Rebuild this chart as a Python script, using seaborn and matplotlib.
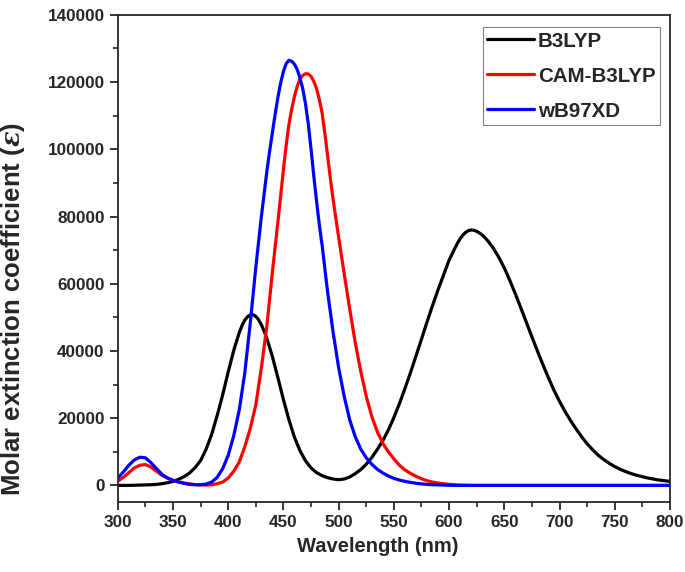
import matplotlib
matplotlib.use('Agg')
import matplotlib.pyplot as plt
from matplotlib.ticker import MultipleLocator
import pandas as pd
import seaborn as sns


# B3LYP (black); 2.5 nm steps on the peak tops
b3lyp_nm = [
    300, 305, 310, 315, 320, 325, 330, 335, 340, 345,
    350, 355, 360, 365, 370, 375, 380, 385, 390, 395,
    400, 405, 410, 412.5, 415, 417.5, 420, 422.5, 425, 427.5,
    430, 432.5, 435, 440, 445, 450, 455, 460, 465, 470,
    475, 480, 485, 490, 495, 500, 505, 510, 515, 520,
    525, 530, 535, 540, 545, 550, 555, 560, 565, 570,
    575, 580, 585, 590, 595, 600, 605, 607.5, 610, 612.5,
    615, 617.5, 620, 622.5, 625, 627.5, 630, 632.5, 635, 640,
    645, 650, 655, 660, 665, 670, 675, 680, 685, 690,
    695, 700, 705, 710, 715, 720, 725, 730, 735, 740,
    745, 750, 755, 760, 765, 770, 775, 780, 785, 790,
    795, 800,
]
b3lyp = [
    0, 0, 0, 50, 100, 150, 200, 300, 500, 800,
    1200, 1800, 2600, 3700, 5300, 7400, 10800, 15200, 20800, 27000,
    33800, 40200, 45500, 47600, 49200, 50200, 50700, 50800, 50300, 49300,
    47800, 45900, 43700, 38300, 32000, 25500, 19500, 14300, 10300, 7300,
    5200, 3800, 2900, 2300, 1900, 1700, 1900, 2500, 3500, 4700,
    6300, 8300, 10700, 13300, 16500, 20200, 24300, 28800, 33500, 38500,
    43500, 48600, 53500, 58200, 62600, 67000, 70400, 72000, 73400, 74500,
    75300, 75800, 76000, 75900, 75600, 75100, 74500, 73700, 72800, 70600,
    67900, 64700, 61000, 57000, 52800, 48500, 44200, 40000, 35900, 32000,
    28300, 25000, 22000, 19300, 16800, 14500, 12400, 10600, 9000, 7700,
    6600, 5600, 4800, 4100, 3500, 3000, 2600, 2200, 1900, 1600,
    1400, 1200,
]

# CAM-B3LYP (red)
cam_nm = [
    300, 305, 310, 315, 320, 325, 330, 335, 340, 345,
    350, 355, 360, 365, 370, 375, 380, 385, 390, 395,
    400, 405, 410, 415, 420, 425, 430, 435, 440, 445,
    450, 452.5, 455, 457.5, 460, 462.5, 465, 467.5, 470, 472.5,
    475, 477.5, 480, 482.5, 485, 487.5, 490, 492.5, 495, 497.5,
    500, 505, 510, 515, 520, 525, 530, 535, 540, 545,
    550, 555, 560, 565, 570, 575, 580, 585, 590, 595,
    600, 605, 610, 615, 620, 650, 700, 750, 800,
]
cam_b3lyp = [
    1300, 2400, 3800, 5200, 6000, 6200, 5500, 4200, 3000, 2200,
    1500, 1100, 700, 450, 250, 150, 100, 200, 500, 1000,
    2200, 4200, 7000, 11500, 17000, 24000, 35000, 47500, 63500, 78500,
    94000, 101300, 107500, 112000, 115800, 118800, 120900, 122000, 122500, 122400,
    121700, 120200, 118000, 114800, 110800, 104800, 98000, 91300, 85000, 79300,
    73800, 63000, 52500, 42500, 34000, 26500, 20500, 16000, 12500, 10000,
    7900, 6000, 4600, 3600, 2700, 2000, 1400, 1000, 700, 500,
    300, 200, 100, 50, 0, 0, 0, 0, 0,
]

# wB97XD (blue)
wb_nm = [
    300, 305, 310, 315, 320, 325, 330, 335, 340, 345,
    350, 355, 360, 365, 370, 375, 380, 385, 390, 395,
    400, 405, 410, 415, 420, 425, 430, 435, 437.5, 440,
    442.5, 445, 447.5, 450, 452.5, 455, 457.5, 460, 462.5, 465,
    467.5, 470, 472.5, 475, 477.5, 480, 482.5, 485, 487.5, 490,
    495, 500, 505, 510, 515, 520, 525, 530, 535, 540,
    545, 550, 555, 560, 565, 570, 575, 580, 585, 590,
    595, 600, 605, 650, 700, 750, 800,
]
wb97xd = [
    2200, 4000, 6000, 7600, 8400, 8200, 6800, 5000, 3300, 2200,
    1500, 1000, 600, 300, 200, 200, 400, 1000, 2400, 5000,
    9000, 14800, 22500, 33500, 48500, 65000, 80000, 93500, 99500, 105000,
    110500, 115500, 119800, 123200, 125500, 126500, 126200, 125300, 123700, 121200,
    118000, 113500, 107500, 100000, 92000, 84500, 77500, 71500, 64500, 57500,
    45500, 35000, 26500, 19500, 14500, 10800, 8200, 6300, 4800, 3700,
    2800, 2100, 1600, 1200, 900, 650, 450, 300, 200, 150,
    100, 50, 0, 0, 0, 0, 0,
]

methods = ['B3LYP', 'CAM-B3LYP', 'wB97XD']
colors = ['black', 'red', 'blue']

sns.set_style('ticks')
plt.rcParams['font.family'] = ['Liberation Sans', 'DejaVu Sans']
plt.rcParams['font.weight'] = 'bold'
plt.rcParams['mathtext.fontset'] = 'dejavuserif'

# long-form table for seaborn
df = pd.concat([
    pd.DataFrame({'Wavelength': x, 'Epsilon': y, 'Method': name})
    for name, x, y in zip(methods,
                          [b3lyp_nm, cam_nm, wb_nm],
                          [b3lyp, cam_b3lyp, wb97xd])
])

fig = plt.figure(figsize=(6.85, 5.72), dpi=100)
ax = fig.add_axes([0.172, 0.122, 0.806, 0.852])

sns.lineplot(data=df, x='Wavelength', y='Epsilon', hue='Method',
             palette=dict(zip(methods, colors)), linewidth=2.3, ax=ax)

ax.set_xlim(300, 800)
ax.set_ylim(-5000, 140000)
ax.xaxis.set_major_locator(MultipleLocator(50))
ax.xaxis.set_minor_locator(MultipleLocator(25))
ax.yaxis.set_major_locator(MultipleLocator(20000))
ax.yaxis.set_minor_locator(MultipleLocator(10000))
ax.tick_params(which='major', direction='out', length=6, width=1.3,
               labelsize=12.3, top=False, right=False)
ax.tick_params(which='minor', direction='out', length=3.5, width=1.2,
               top=False, right=False)
for lab in ax.get_xticklabels() + ax.get_yticklabels():
    lab.set_fontweight('bold')
for sp in ax.spines.values():
    sp.set_linewidth(1.3)
    sp.set_visible(True)

ax.set_xlabel('Wavelength (nm)', fontsize=14.5, fontweight='bold')
ax.set_ylabel(r'Molar extinction coefficient ($\varepsilon$)', fontsize=18.5,
              fontweight='bold')
ax.xaxis.set_label_coords(0.471, -0.072)
ax.yaxis.set_label_coords(-0.165, 0.396)

leg = ax.legend(loc='upper right', bbox_to_anchor=(0.982, 0.975),
                borderaxespad=0, fancybox=False, edgecolor='gray',
                prop={'weight': 'bold', 'size': 14.8}, handlelength=2.25,
                handletextpad=0.2, labelspacing=0.78, borderpad=0.22,
                framealpha=1)
leg.get_frame().set_linewidth(0.8)
for line in leg.get_lines():
    line.set_linewidth(2.3)

fig.savefig('out.png', dpi=100)
